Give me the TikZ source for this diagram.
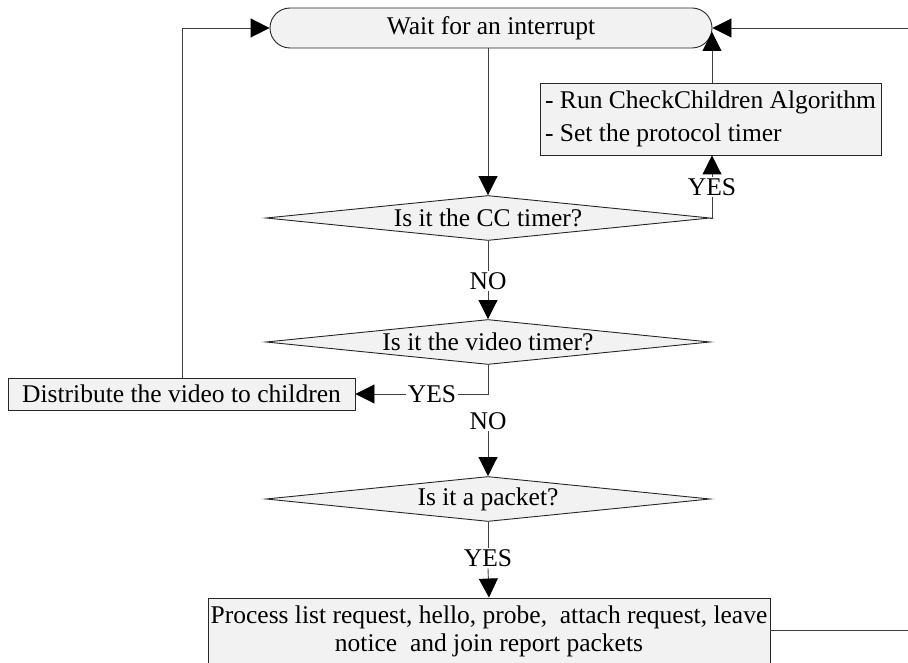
\documentclass[tikz,border=0pt]{standalone}
\usepackage{fontspec}
\setmainfont{Liberation Serif}
\usetikzlibrary{arrows.meta,shapes.geometric}
\begin{document}
\begin{tikzpicture}[x=1pt,y=-1pt,
  every node/.style={font=\fontsize{25.5}{30}\selectfont},
  box/.style={draw=black!85, fill=gray!10, line width=0.9pt, inner sep=0pt},
  term/.style={box, rounded corners=20pt, minimum width=442pt, minimum height=40pt},
  dec/.style={box, diamond, minimum width=444pt, minimum height=45pt},
  lbl/.style={inner sep=1.5pt},
  flow/.style={draw=black!75, line width=0.9pt},
  arr/.style={flow, -{Triangle[length=19pt,width=19pt,color=black,fill=black]}}
]
\useasboundingbox (0,0) rectangle (908,663);

% process blocks
\node[term] (wait) at (491,28) {Wait for an interrupt};
\node[box, minimum width=341pt, minimum height=72pt, align=left,
      font=\fontsize{25.5}{33}\selectfont] (chk) at (710.5,119)
  {- Run CheckChildren Algorithm\\- Set the protocol timer};
\node[dec, label=center:{Is it the CC timer?}] (cc) at (488,218) {};
\node[dec, label=center:{Is it the video timer?}] (video) at (488,342) {};
\node[box, minimum width=347pt, minimum height=32pt] (dist) at (181.5,394)
  {Distribute the video to children};
\node[dec, label=center:{Is it a packet?}] (pkt) at (488,499) {};
\node[box, minimum width=562pt, minimum height=66pt, align=center,
      font=\fontsize{25.5}{28}\selectfont] (proc) at (489,631)
  {Process list request, hello, probe,\ \ attach request, leave\\notice\ \ and join report packets};

% branch labels
\node[lbl] (yes1) at (712,187) {YES};
\node[lbl] (no1) at (488,281) {NO};
\node[lbl] (yes2) at (432,394) {YES};
\node[lbl] (no2) at (488,421) {NO};
\node[lbl] (yes3) at (488,558) {YES};

% helper points
\coordinate (ccR) at (712,218);
\coordinate (waitR) at (712,32);
\coordinate (junc) at (488,394);
\coordinate (leftTop) at (182,28);
\coordinate (rightTop) at (908,28);
\coordinate (rightOut) at (908,630);

% connectors
\draw[arr] (488,48) -- (cc.north);
\draw[flow] (cc.east) -- (ccR) -- (yes1.south -| ccR);
\draw[arr] (yes1.north -| ccR) -- (chk.south -| ccR);
\draw[arr] (chk.north -| waitR) -- (waitR);
\draw[arr] (rightTop) -- (wait.east);
\draw[arr] (dist.north -| leftTop) -- (leftTop) -- (wait.west);
\draw[flow] (cc.south) -- (no1.north);
\draw[arr] (no1.south) -- (video.north);
\draw[flow] (video.south) -- (junc) -- (yes2.east);
\draw[arr] (yes2.west) -- (dist.east);
\draw[arr] (no2.south) -- (pkt.north);
\draw[flow] (pkt.south) -- (yes3.north);
\draw[arr] (yes3.south) -- (proc.north);
\draw[flow] (proc.east |- rightOut) -- (rightOut);
\end{tikzpicture}
\end{document}
